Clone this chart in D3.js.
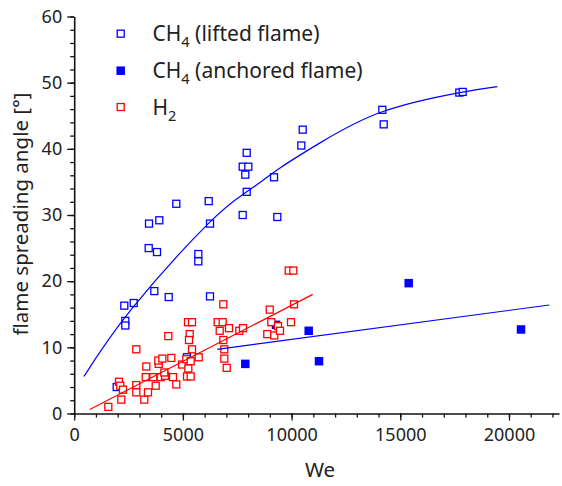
<!DOCTYPE html>
<html>
<head>
<meta charset="utf-8">
<script src="https://cdn.jsdelivr.net/npm/d3@7"></script>
<style>
  body { margin: 0; background: #fff; }
  svg text { font-family: "Noto Sans", "Open Sans", sans-serif; fill: #222; }
</style>
</head>
<body>
<svg id="canvas"></svg>
<script>
// CH4 lifted flame (hollow blue)
let liftedWe = [1955, 2351, 2351, 2305, 2737, 3685, 4347, 6247, 3441, 3915, 3427, 3809, 5709, 5709, 4697, 6187,
                6247, 7751, 9343, 7935, 9191, 7871, 7751, 8009, 7935, 10447, 10511, 14173, 14237, 17715, 17871, 5189]
let liftedAngle = [4.0, 14.0, 13.3, 16.3, 16.7, 18.5, 17.6, 17.7, 28.7, 29.2, 25.0, 24.4, 24.1, 23.0, 31.7, 32.1,
                   28.7, 30.0, 29.7, 33.5, 35.7, 36.1, 37.3, 37.3, 39.4, 40.5, 42.9, 45.9, 43.7, 48.5, 48.6, 8.5]

// CH4 anchored flame (filled blue)
let anchoredWe = [7871, 9283, 10787, 11261, 15387, 20553]
let anchoredAngle = [7.5, 13.4, 12.5, 7.9, 19.7, 12.7]

// H2 (hollow red)
let h2We = [1569, 2061, 2121, 2245, 2167, 2857, 2857, 2857, 3225, 3395, 3317, 3289, 3749, 3639, 3887, 3869,
            4053, 3979, 4177, 4145, 4329, 4467, 4545, 4697, 4959, 5157, 5235, 5419, 5313, 5281, 5419, 5359,
            5249, 5189, 5359, 5727, 6601, 6831, 6693, 6859, 7121, 6859, 6905, 6905, 7015, 7595, 7765, 8993,
            9067, 8883, 9205, 9375, 9467, 9867, 10079, 10111, 9973]
let h2Angle = [1.0, 4.8, 4.2, 3.6, 2.1, 4.3, 3.2, 9.7, 2.1, 3.2, 7.1, 5.5, 4.2, 5.5, 7.5, 8.0,
               8.3, 5.5, 5.7, 6.2, 11.7, 8.4, 5.5, 4.4, 7.4, 8.2, 13.8, 13.8, 12.0, 11.1, 9.7, 7.9,
               6.8, 5.6, 5.6, 8.5, 13.8, 13.8, 12.5, 16.5, 12.9, 11.1, 9.7, 8.3, 6.9, 12.5, 12.9, 15.7,
               13.8, 12.0, 11.8, 13.2, 12.5, 21.6, 21.6, 16.5, 13.8]

// fit lines
let liftedFitWe = [451, 2645, 6169, 7935, 9467, 11307, 14173, 17747, 19463]
let liftedFitAngle = [5.6, 15.8, 28.7, 33.5, 37.1, 40.9, 45.6, 48.5, 49.4]
let anchoredFitWe = [6583, 21855]
let anchoredFitAngle = [9.7, 16.4]
let h2FitWe = [713, 10971]
let h2FitAngle = [0.6, 18.0]

let xTicks = [0, 5000, 10000, 15000, 20000]
let yTicks = [0, 10, 20, 30, 40, 50, 60]

let legendLabels = [['CH', '4', ' (lifted flame)'], ['CH', '4', ' (anchored flame)'], ['H', '2', '']]

let width = 562
let height = 486
let padLeft = 74.2
let axisBottom = 413.5
let axisTop = 16.5

let blue = '#0000ff'
let red = '#ff0000'

let svg = d3.select('#canvas').attr('width', width).attr('height', height)

let xScale = d3.scaleLinear().domain([0, 22300]).range([padLeft, padLeft + 22300 / 46])
let yScale = d3.scaleLinear().domain([0, 60]).range([axisBottom, axisTop])

// minor ticks
svg.append('g')
    .attr('transform', 'translate(0,' + axisBottom + ')')
    .call(d3.axisBottom(xScale).tickValues(d3.range(0, 22001, 1000)).tickSize(4).tickFormat(''))
    .call(g => g.select('.domain').remove())
svg.append('g')
    .attr('transform', 'translate(' + padLeft + ',0)')
    .call(d3.axisLeft(yScale).tickValues(d3.range(0, 61, 2)).tickSize(4).tickFormat(''))
    .call(g => g.select('.domain').remove())

svg.append('g')
    .attr('transform', 'translate(0,' + axisBottom + ')')
    .call(d3.axisBottom(xScale).tickValues(xTicks).tickSize(7).tickPadding(8).tickSizeOuter(0).tickFormat(d3.format('d')))
svg.append('g')
    .attr('transform', 'translate(' + padLeft + ',0)')
    .call(d3.axisLeft(yScale).tickValues(yTicks).tickSize(7).tickPadding(5).tickSizeOuter(0))

svg.selectAll('.tick line').attr('stroke', '#111').attr('stroke-width', 1.3)
svg.selectAll('.domain').attr('stroke', '#111').attr('stroke-width', 1.6)
svg.selectAll('.tick text').style('font-size', '18px').style('font-family', '"Noto Sans", sans-serif').attr('fill', '#222')

svg.append('text')
    .attr('x', 320).attr('y', 477)
    .attr('text-anchor', 'middle')
    .style('font-size', '20.5px')
    .text('We')

svg.append('text')
    .attr('transform', 'translate(28,214) rotate(-90)')
    .attr('text-anchor', 'middle')
    .style('font-size', '20.5px')
    .text('flame spreading angle [°]')

// hollow markers are white-filled so later series hide earlier ones
let drawSquares = (xs, ys, color, filled, size) => {
    svg.append('g').selectAll('rect')
        .data(d3.zip(xs, ys))
        .enter()
        .append('rect')
        .attr('x', d => xScale(d[0]) - size / 2)
        .attr('y', d => yScale(d[1]) - size / 2)
        .attr('width', size)
        .attr('height', size)
        .attr('fill', filled ? color : '#fff')
        .attr('stroke', filled ? 'none' : color)
        .attr('stroke-width', 1.3)
}

drawSquares(liftedWe, liftedAngle, blue, false, 7)
drawSquares(anchoredWe, anchoredAngle, blue, true, 8.5)
drawSquares(h2We, h2Angle, red, false, 7)

let fitLine = d3.line().x(d => xScale(d[0])).y(d => yScale(d[1]))

svg.append('path')
    .datum(d3.zip(liftedFitWe, liftedFitAngle))
    .attr('d', d3.line().x(d => xScale(d[0])).y(d => yScale(d[1])).curve(d3.curveNatural))
    .attr('fill', 'none').attr('stroke', blue).attr('stroke-width', 1.2)
svg.append('path')
    .datum(d3.zip(anchoredFitWe, anchoredFitAngle))
    .attr('d', fitLine)
    .attr('fill', 'none').attr('stroke', blue).attr('stroke-width', 1.2)
svg.append('path')
    .datum(d3.zip(h2FitWe, h2FitAngle))
    .attr('d', fitLine)
    .attr('fill', 'none').attr('stroke', red).attr('stroke-width', 1.2)

// legend
let legendColors = [blue, blue, red]
let legendFilled = [false, true, false]
let legendY = [33.7, 70.7, 107]
legendLabels.forEach((lab, i) => {
    let s = legendFilled[i] ? 8.5 : 7
    svg.append('rect')
        .attr('x', 120.7 - s / 2).attr('y', legendY[i] - s / 2)
        .attr('width', s).attr('height', s)
        .attr('fill', legendFilled[i] ? legendColors[i] : '#fff')
        .attr('stroke', legendFilled[i] ? 'none' : legendColors[i])
        .attr('stroke-width', 1.3)
    let t = svg.append('text')
        .attr('x', 152.5).attr('y', legendY[i] + 7.5)
        .style('font-size', '21px')
    t.append('tspan').text(lab[0])
    t.append('tspan').attr('dy', 6).style('font-size', '14.5px').text(lab[1])
    t.append('tspan').attr('dy', -6).text(lab[2])
})
</script>
</body>
</html>
